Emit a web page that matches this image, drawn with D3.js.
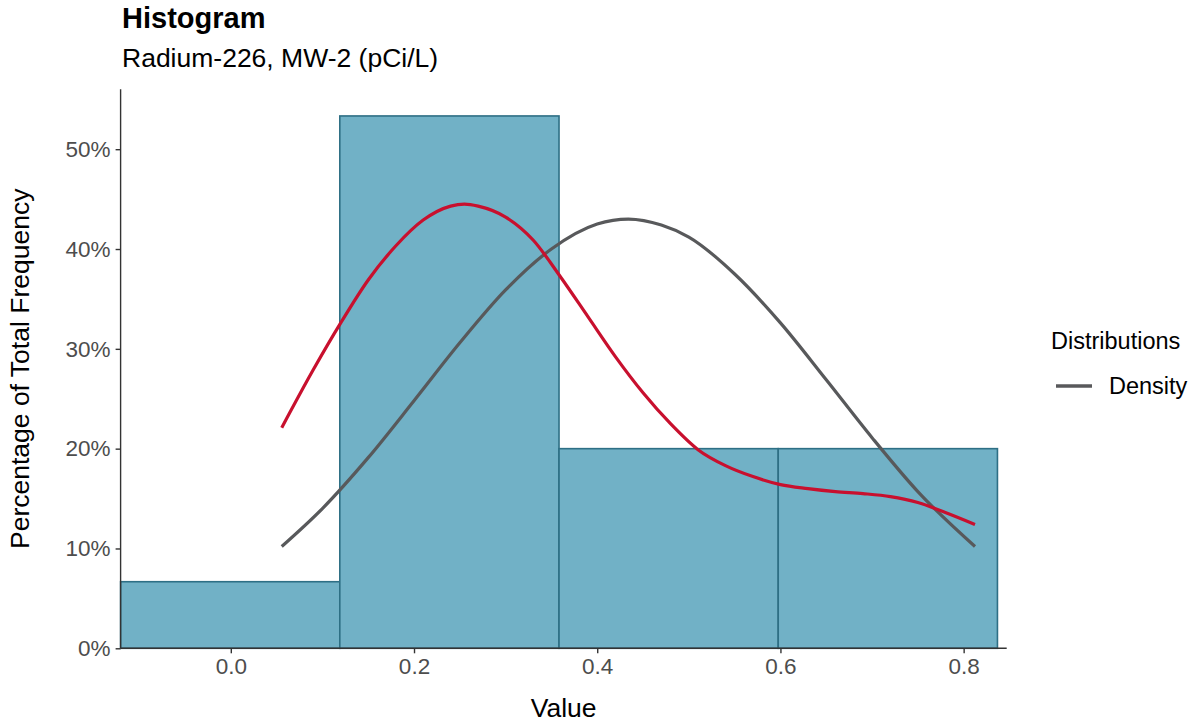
<!DOCTYPE html>
<html>
<head>
<meta charset="utf-8">
<script src="https://cdn.jsdelivr.net/npm/d3@7"></script>
<style>
  html, body { margin: 0; padding: 0; background: #fff; }
  svg { display: block; font-family: "Liberation Sans", Arial, sans-serif; }
</style>
</head>
<body>
<svg id="chart" width="1192" height="724"></svg>
<script>
// ---- Data ----
const binStarts = [-0.1203, 0.1190, 0.3583, 0.5976];
const binWidth = 0.2393;
const binPercent = [6.67, 53.33, 20.0, 20.0];

// normal density curve (gray)
const normalX = [0.0556, 0.10, 0.15, 0.20, 0.25, 0.30, 0.35, 0.40, 0.434, 0.47, 0.50, 0.55, 0.60, 0.65, 0.70, 0.75, 0.8124];
const normalY = [10.2, 14.0, 19.1, 24.8, 30.6, 35.9, 40.0, 42.5, 43.0, 42.4, 41.2, 37.5, 32.6, 26.9, 21.1, 15.7, 10.2];

// kernel density curve (red)
const kdeX = [0.0556, 0.09, 0.12, 0.15, 0.18, 0.21, 0.24, 0.255, 0.27, 0.30, 0.33, 0.36, 0.39, 0.42, 0.45, 0.48, 0.51, 0.54, 0.57, 0.60, 0.63, 0.66, 0.69, 0.72, 0.75, 0.78, 0.8124];
const kdeY = [22.1, 27.9, 32.6, 36.9, 40.3, 42.9, 44.3, 44.5, 44.3, 43.2, 40.9, 37.2, 33.2, 29.2, 25.6, 22.5, 19.9, 18.3, 17.2, 16.4, 16.0, 15.7, 15.5, 15.2, 14.6, 13.6, 12.4];

const xTicks = [0.0, 0.2, 0.4, 0.6, 0.8];
const yTicks = [0, 10, 20, 30, 40, 50];

const titleText = "Histogram";
const subtitleText = "Radium-226, MW-2 (pCi/L)";
const xTitle = "Value";
const yTitle = "Percentage of Total Frequency";
const legendTitle = "Distributions";
const legendLabel = "Density";

// ---- Layout ----
const svg = d3.select("#chart");
const plot = { left: 120.6, right: 1006.7, top: 89.3, bottom: 648.3 };

const x = d3.scaleLinear().domain([-0.1203, 0.847]).range([plot.left, plot.right]);
const y = d3.scaleLinear().domain([0, 56.0]).range([plot.bottom, plot.top]);

const barFill = "#71b1c6";
const barStroke = "#2e6f85";
const red = "#c8102e";
const gray = "#58595b";

// Bars
svg.append("g").selectAll("rect")
  .data(binStarts.map((s, i) => ({ s, v: binPercent[i] })))
  .join("rect")
  .attr("x", d => x(d.s))
  .attr("y", d => y(d.v))
  .attr("width", d => x(d.s + binWidth) - x(d.s))
  .attr("height", d => y(0) - y(d.v))
  .attr("fill", barFill)
  .attr("stroke", barStroke)
  .attr("stroke-width", 1.6);

// Curves
const line = d3.line().x(d => x(d[0])).y(d => y(d[1])).curve(d3.curveMonotoneX);
svg.append("path")
  .datum(normalX.map((v, i) => [v, normalY[i]]))
  .attr("d", line)
  .attr("fill", "none")
  .attr("stroke", gray)
  .attr("stroke-width", 3.2);
svg.append("path")
  .datum(kdeX.map((v, i) => [v, kdeY[i]]))
  .attr("d", line)
  .attr("fill", "none")
  .attr("stroke", red)
  .attr("stroke-width", 3.2);

// Axes
const xAxis = d3.axisBottom(x).tickValues(xTicks).tickFormat(d3.format(".1f")).tickSize(5).tickPadding(5);
const yAxis = d3.axisLeft(y).tickValues(yTicks).tickFormat(d => d + "%").tickSize(5).tickPadding(5);

const gx = svg.append("g").attr("transform", `translate(0,${plot.bottom})`).call(xAxis);
const gy = svg.append("g").attr("transform", `translate(${plot.left},0)`).call(yAxis);

[gx, gy].forEach(g => {
  g.select(".domain").attr("stroke", "#333").attr("stroke-width", 1.4);
  g.selectAll(".tick line").attr("stroke", "#333").attr("stroke-width", 1.4);
  g.selectAll(".tick text").attr("fill", "#4d4d4d").style("font-size", "22.5px").attr("font-family", "Liberation Sans, Arial, sans-serif");
});
gx.select(".domain").attr("d", `M${plot.left},0H${plot.right}`);
gy.select(".domain").attr("d", `M0,${plot.top}V${plot.bottom}`);

// Titles
svg.append("text").attr("x", 122).attr("y", 28).text(titleText)
  .style("font-size", "29px").style("font-weight", "bold").attr("fill", "#000");
svg.append("text").attr("x", 122).attr("y", 67).text(subtitleText)
  .style("font-size", "26.5px").attr("fill", "#000");

svg.append("text").attr("x", (plot.left + plot.right) / 2).attr("y", 717)
  .attr("text-anchor", "middle").text(xTitle).style("font-size", "26.5px").attr("fill", "#000");
svg.append("text")
  .attr("transform", `translate(29,${(plot.top + plot.bottom) / 2}) rotate(-90)`)
  .attr("text-anchor", "middle").text(yTitle).style("font-size", "26.5px").attr("fill", "#000");

// Legend
svg.append("text").attr("x", 1051).attr("y", 349).text(legendTitle)
  .style("font-size", "23.5px").attr("fill", "#000");
svg.append("line").attr("x1", 1056).attr("x2", 1092).attr("y1", 386).attr("y2", 386)
  .attr("stroke", gray).attr("stroke-width", 3.4);
svg.append("text").attr("x", 1109).attr("y", 394).text(legendLabel)
  .style("font-size", "23.5px").attr("fill", "#000");
</script>
</body>
</html>
